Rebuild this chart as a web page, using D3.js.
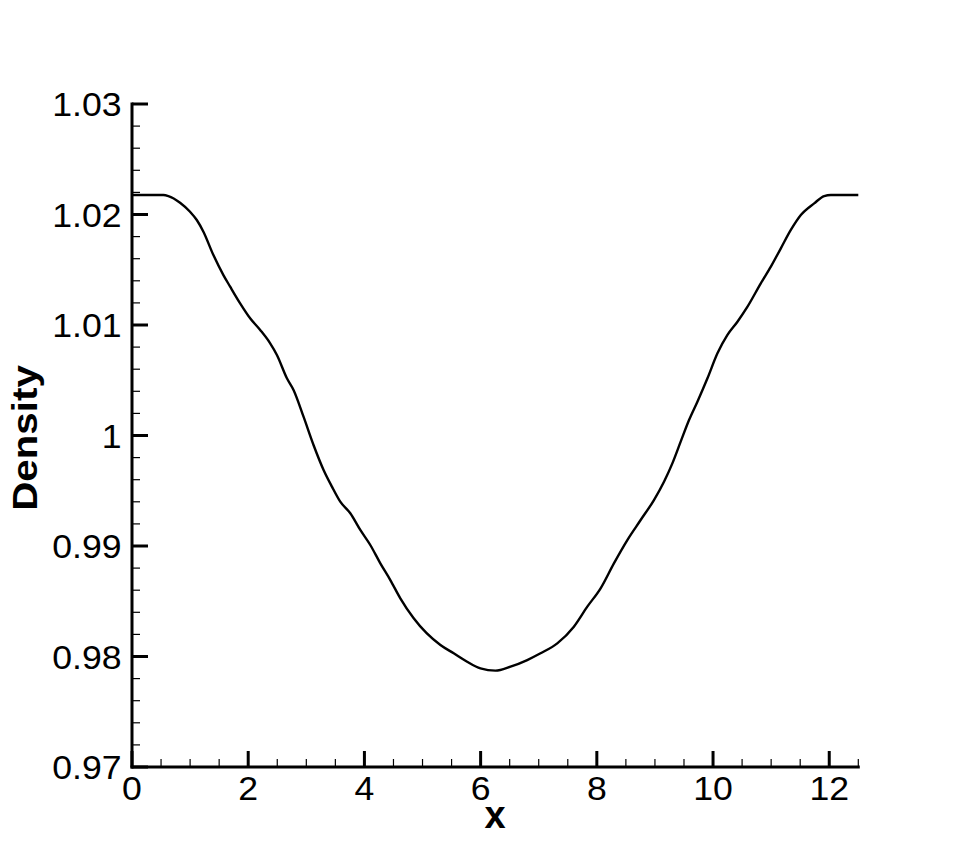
<!DOCTYPE html>
<html>
<head>
<meta charset="utf-8">
<script src="https://cdn.jsdelivr.net/npm/d3@7"></script>
<style>
  html, body { margin: 0; padding: 0; background: #fff; }
  svg { display: block; }
  text { font-family: "Liberation Sans", Arial, Helvetica, sans-serif; fill: #000; }
</style>
</head>
<body>
<svg id="chart" width="970" height="862"></svg>
<script>
// ---- data ----
const xValues = [0, 0.54, 0.626, 0.827, 0.999, 1.115, 1.229, 1.401, 1.573, 1.689, 1.861, 2.033, 2.206, 2.378, 2.494, 2.666, 2.78, 2.952, 3.124, 3.297, 3.441, 3.584, 3.757, 3.929, 4.101, 4.274, 4.446, 4.618, 4.848, 5.308, 5.537, 5.768, 5.997, 6.255, 6.514, 6.802, 7.031, 7.319, 7.605, 7.836, 8.065, 8.294, 8.525, 8.754, 8.983, 9.156, 9.3, 9.443, 9.587, 9.731, 9.904, 10.076, 10.248, 10.42, 10.593, 10.822, 10.995, 11.167, 11.339, 11.511, 11.741, 11.913, 12.028, 12.5];
const densityValues = [1.02176, 1.02176, 1.02167, 1.02107, 1.02025, 1.0195, 1.01844, 1.01633, 1.01452, 1.01347, 1.01196, 1.01061, 1.00955, 1.00834, 1.00729, 1.00518, 1.00412, 1.0017, 0.99914, 0.99688, 0.99537, 0.99401, 0.99296, 0.99145, 0.99009, 0.98843, 0.98692, 0.98527, 0.98346, 0.98104, 0.98029, 0.97953, 0.97893, 0.97872, 0.97908, 0.97968, 0.98029, 0.98119, 0.9827, 0.98451, 0.98617, 0.98843, 0.99054, 0.99235, 0.99416, 0.99582, 0.99748, 0.99944, 1.0014, 1.00306, 1.00518, 1.00744, 1.0091, 1.0103, 1.01166, 1.01377, 1.01528, 1.01694, 1.0186, 1.01995, 1.02101, 1.02167, 1.02176, 1.02176];
const xMajorTicks = [0, 2, 4, 6, 8, 10, 12];
const xTickLabels = ["0", "2", "4", "6", "8", "10", "12"];
const yMajorTicks = [0.97, 0.98, 0.99, 1.00, 1.01, 1.02, 1.03];
const yTickLabels = ["0.97", "0.98", "0.99", "1", "1.01", "1.02", "1.03"];
const xTitle = "x";
const yTitle = "Density";

// ---- layout ----
const svg = d3.select("#chart");
const pLeft = 132, pRight = 858.3, pTop = 104, pBottom = 767;
const x = d3.scaleLinear().domain([0, 12.5]).range([pLeft, pRight]);
const y = d3.scaleLinear().domain([0.97, 1.03]).range([pBottom, pTop]);

const xMinor = d3.range(0, 12.5001, 0.5).filter(v => !xMajorTicks.some(m => Math.abs(m - v) < 1e-6));
const yMinor = d3.range(0, 31).map(i => 0.97 + i * 0.002).filter(v => !yMajorTicks.some(m => Math.abs(m - v) < 1e-6));

// ticks
const gx = svg.append("g");
gx.selectAll("line.minx").data(xMinor).enter().append("line")
  .attr("x1", d => x(d)).attr("x2", d => x(d))
  .attr("y1", pBottom).attr("y2", pBottom - 8)
  .attr("stroke", "#000").attr("stroke-width", 1.2);
gx.selectAll("line.majx").data(xMajorTicks).enter().append("line")
  .attr("x1", d => x(d)).attr("x2", d => x(d))
  .attr("y1", pBottom).attr("y2", pBottom - 16)
  .attr("stroke", "#000").attr("stroke-width", 3);

const gy = svg.append("g");
gy.selectAll("line.miny").data(yMinor).enter().append("line")
  .attr("y1", d => y(d)).attr("y2", d => y(d))
  .attr("x1", pLeft).attr("x2", pLeft + 8)
  .attr("stroke", "#000").attr("stroke-width", 1.2);
gy.selectAll("line.majy").data(yMajorTicks).enter().append("line")
  .attr("y1", d => y(d)).attr("y2", d => y(d))
  .attr("x1", pLeft).attr("x2", pLeft + 16)
  .attr("stroke", "#000").attr("stroke-width", 3);

// axis lines
svg.append("line").attr("x1", pLeft).attr("x2", pLeft).attr("y1", pTop - 1.5).attr("y2", pBottom + 1.5)
  .attr("stroke", "#000").attr("stroke-width", 3);
svg.append("line").attr("x1", pLeft - 1.5).attr("x2", pRight + 1.5).attr("y1", pBottom).attr("y2", pBottom)
  .attr("stroke", "#000").attr("stroke-width", 3);

// tick labels (slightly wide font, as in the reference)
const sx = 1.08;
svg.selectAll("text.xl").data(xMajorTicks).enter().append("text")
  .attr("transform", d => `translate(${x(d)},800) scale(${sx},1)`)
  .attr("text-anchor", "middle").attr("font-size", 33)
  .text((d, i) => xTickLabels[i]);
svg.selectAll("text.yl").data(yMajorTicks).enter().append("text")
  .attr("transform", d => `translate(121.5,${y(d) + 12}) scale(${sx},1)`)
  .attr("text-anchor", "end").attr("font-size", 33)
  .text((d, i) => yTickLabels[i]);

// titles
svg.append("text").attr("x", 495).attr("y", 828)
  .attr("text-anchor", "middle").attr("font-size", 38).attr("font-weight", "bold")
  .text(xTitle);
svg.append("text").attr("transform", "translate(37,438) rotate(-90) scale(1.12,1)")
  .attr("text-anchor", "middle").attr("font-size", 36).attr("font-weight", "bold")
  .text(yTitle);

// curve
const data = xValues.map((v, i) => [v, densityValues[i]]);
svg.append("path").datum(data)
  .attr("fill", "none").attr("stroke", "#000").attr("stroke-width", 2.4)
  .attr("stroke-linejoin", "round")
  .attr("d", d3.line().x(d => x(d[0])).y(d => y(d[1])).curve(d3.curveMonotoneX));
</script>
</body>
</html>
